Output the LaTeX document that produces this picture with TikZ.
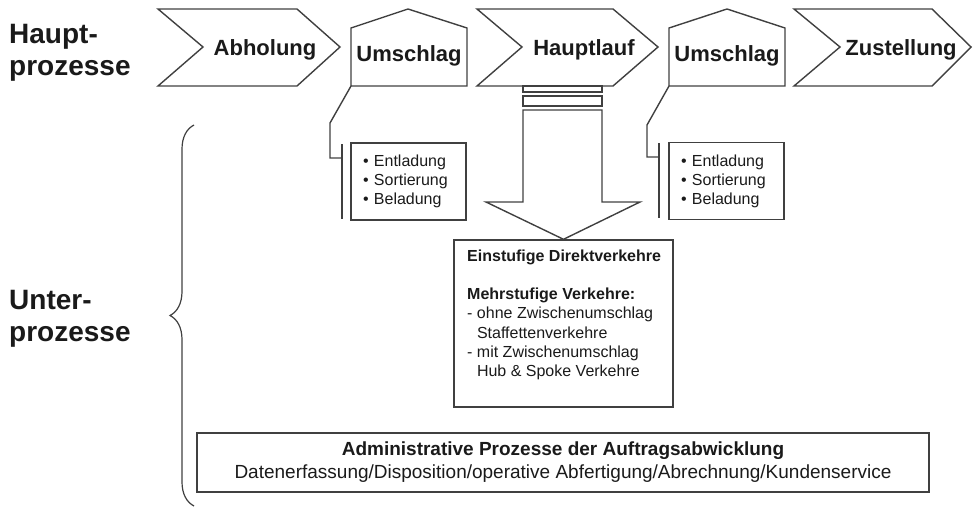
\documentclass[tikz,border=0pt]{standalone}
\usepackage{fontspec}
\setmainfont{Liberation Sans}
\usetikzlibrary{decorations.pathreplacing}
\definecolor{linegray}{HTML}{404040}
\definecolor{inkblack}{HTML}{1A1A1A}

\begin{document}
\begin{tikzpicture}[x=1pt, y=-1pt,
    outline/.style={draw=linegray, line width=1.4pt, line join=miter},
    titletext/.style={font=\fontsize{28}{32}\selectfont\bfseries, align=left, anchor=north west, inner sep=0pt, text=inkblack},
    steptext/.style={font=\fontsize{22}{26}\selectfont\bfseries, anchor=base, inner sep=0pt, text=inkblack},
    listbox/.style={outline, text width=91pt, minimum height=77pt, inner xsep=12pt, inner ysep=0pt, align=left, font=\fontsize{16}{19}\selectfont, text=inkblack}]
  \useasboundingbox (0,0) rectangle (973,508);

  % Nodes
  \node[titletext] (haupt) at (9,24) {Haupt-\\prozesse};
  \node[titletext] (unter) at (9,290) {Unter-\\prozesse};

  \draw[outline] (158,9) -- (297,9) -- (340,47) -- (297,86) -- (158,86) -- (203,47) -- cycle;
  \draw[outline] (351,86) -- (351,28) -- (408,9) -- (467,28) -- (467,86) -- cycle;
  \draw[outline] (477,9) -- (613,9) -- (658,47) -- (613,86) -- (477,86) -- (522,47) -- cycle;
  \draw[outline] (669,86) -- (669,28) -- (727,9) -- (785,28) -- (785,86) -- cycle;
  \draw[outline] (794,9) -- (932,9) -- (971,47) -- (932,86) -- (794,86) -- (840,47) -- cycle;

  \node[steptext] (abholung) at (265,56) {Abholung};
  \node[steptext] (umschlagA) at (409,62) {Umschlag};
  \node[steptext] (hauptlauf) at (584,56) {Hauptlauf};
  \node[steptext] (umschlagB) at (727,62) {Umschlag};
  \node[steptext] (zustellung) at (901,56) {Zustellung};

  \node[listbox] (listA) at (408.5,181.5) {\textbullet{} Entladung\\\textbullet{} Sortierung\\\textbullet{} Beladung};
  \node[listbox] (listB) at (726.5,181) {\textbullet{} Entladung\\\textbullet{} Sortierung\\\textbullet{} Beladung};

  \node[outline, minimum width=219pt, minimum height=167pt, inner sep=0pt] (direkt) at (563.5,323.5) {};
  \node[font=\fontsize{16}{19.3}\selectfont, align=left, anchor=north west, inner sep=0pt, text=inkblack] (direkttext) at (467,249.3)
    {\textbf{Einstufige Direktverkehre}\\[19.3pt]
     \textbf{Mehrstufige Verkehre:}\\
     - ohne Zwischenumschlag\\
     \hspace*{9.8pt}Staffettenverkehre\\
     - mit Zwischenumschlag\\
     \hspace*{9.8pt}Hub \& Spoke Verkehre};

  \node[outline, minimum width=732pt, minimum height=59pt, inner sep=0pt, align=center, font=\fontsize{19}{23}\selectfont, text=inkblack] (admin) at (563,462.5)
    {\textbf{Administrative Prozesse der Auftragsabwicklung}\\
     Datenerfassung/Disposition/operative Abfertigung/Abrechnung/Kundenservice};

  \coordinate (houseA) at (351,86);
  \coordinate (kinkA) at (330,123);
  \coordinate (elbowA) at (330,158);
  \coordinate (barAtop) at (342,144);
  \coordinate (barAbot) at (342,219);
  \coordinate (houseB) at (669,86);
  \coordinate (kinkB) at (647,125);
  \coordinate (elbowB) at (647,157);
  \coordinate (barBtop) at (659,143);
  \coordinate (barBbot) at (659,218);

  % Edges
  \draw[outline] (houseA) -- (kinkA) -- (elbowA) -- (elbowA -| barAtop);
  \draw[outline] (barAtop) -- (barAbot);
  \draw[outline] (houseB) -- (kinkB) -- (elbowB) -- (elbowB -| barBtop);
  \draw[outline] (barBtop) -- (barBbot);

  % Arrow from Hauptlauf
  \draw[outline] (523,86) rectangle (602,92);
  \draw[outline] (523,96) rectangle (602,106);
  \draw[outline] (523,110) -- (523,202) -- (486,202) -- (direkt.north) -- (640,202) -- (602,202) -- (602,110) -- cycle;

  % Brace
  \draw[draw=linegray, line width=1.2pt, decorate, decoration={brace, amplitude=24pt}] (194,506) -- (194,125);
\end{tikzpicture}
\end{document}
